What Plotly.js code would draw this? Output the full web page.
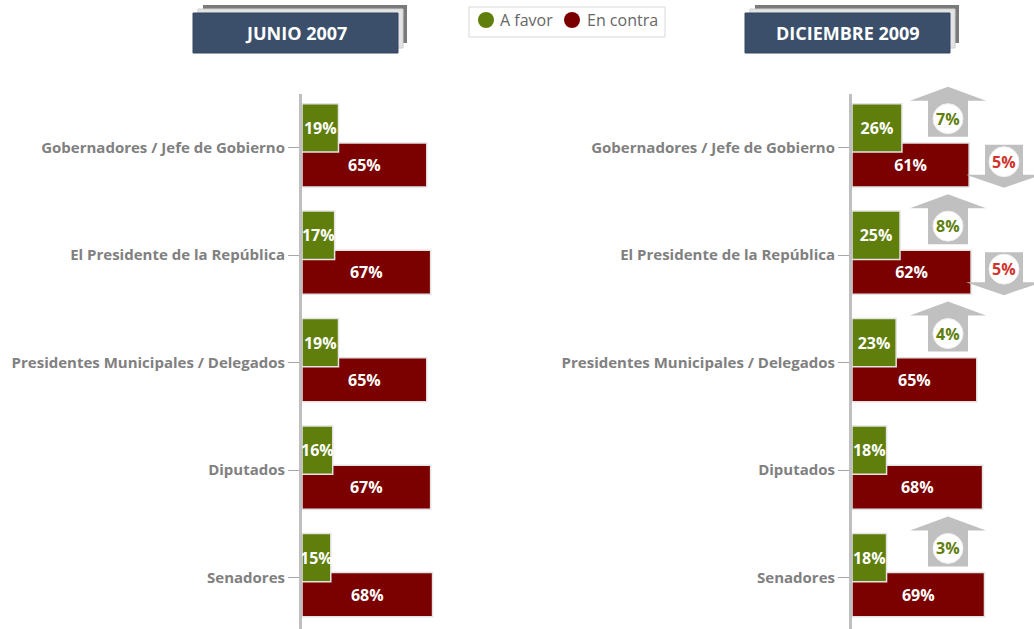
<!DOCTYPE html>
<html>
<head>
<meta charset="utf-8">
<script src="https://cdn.plot.ly/plotly-3.0.1.min.js"></script>
<style>html,body{margin:0;padding:0;background:#fff;}#chart{width:1034px;height:629px;}</style>
</head>
<body>
<div id="chart"></div>
<script>
const categories = ['Gobernadores / Jefe de Gobierno', 'El Presidente de la República', 'Presidentes Municipales / Delegados', 'Diputados', 'Senadores'];
const favor2007 = [19, 17, 19, 16, 15];
const contra2007 = [65, 67, 65, 67, 68];
const favor2009 = [26, 25, 23, 18, 18];
const contra2009 = [61, 62, 65, 68, 69];
const favorChange = [7, 8, 4, null, 3];
const contraChange = [5, 5, null, null, null];
const panelTitles = ['JUNIO 2007', 'DICIEMBRE 2009'];
const seriesNames = ['A favor', 'En contra'];

const GREEN = '#5f7e0c', RED = '#7b0000', GRAYTXT = '#808080';
const FONT = 'Open Sans, sans-serif';
const W = 1034, H = 629, MT = 94, MB = 0;
const plotH = H - MT - MB;
const yRange = [4.48, -0.5];
const unit = plotH / (yRange[0] - yRange[1]);
const px = x => x / W;
const py = y => (H - MB - y) / plotH;
const tickY = i => MT + (i - yRange[1]) * unit;

function barTrace(vals, color, xa, ya, offset, width) {
  return {
    type: 'bar', orientation: 'h', y: categories, x: vals, xaxis: xa, yaxis: ya,
    offset: offset, width: width, showlegend: false, hoverinfo: 'skip',
    marker: {color: color, line: {color: '#e3e3e3', width: 1.5}},
    text: vals.map(v => v + '%'), textposition: 'inside', insidetextanchor: 'middle',
    textangle: 0, constraintext: 'none', cliponaxis: false,
    textfont: {family: FONT, size: 16, color: '#ffffff', weight: 'bold'}
  };
}

const data = [
  barTrace(contra2007, RED, 'x', 'y', -0.045, 0.41),
  barTrace(favor2007, GREEN, 'x', 'y', -0.41, 0.45),
  barTrace(contra2009, RED, 'x2', 'y2', -0.045, 0.41),
  barTrace(favor2009, GREEN, 'x2', 'y2', -0.41, 0.45)
];

const yaxisBase = {
  type: 'category', categoryorder: 'array', categoryarray: categories, range: yRange,
  showline: true, linecolor: '#bfbfbf', linewidth: 3, showgrid: false, zeroline: false,
  ticks: 'outside', ticklen: 11, tickcolor: '#a6a6a6', tickwidth: 1,
  tickfont: {family: FONT, size: 15, color: GRAYTXT, weight: 'bold'}, fixedrange: true
};
const xaxisBase = {range: [0, 75], visible: false, fixedrange: true};

const shapes = [];
const annotations = [];

// Panel title boxes
[193, 745].forEach((x0, k) => {
  shapes.push({type: 'rect', xref: 'paper', yref: 'paper', x0: px(x0 + 10), x1: px(x0 + 214), y0: py(5), y1: py(43), fillcolor: '#7a7a7a', line: {width: 0}, layer: 'above'});
  shapes.push({type: 'rect', xref: 'paper', yref: 'paper', x0: px(x0 + 5), x1: px(x0 + 210), y0: py(9), y1: py(48), fillcolor: '#e4e4e4', line: {color: '#cfcfcf', width: 1}, layer: 'above'});
  shapes.push({type: 'rect', xref: 'paper', yref: 'paper', x0: px(x0), x1: px(x0 + 205), y0: py(13), y1: py(53), fillcolor: '#3b4f6a', line: {color: '#34465e', width: 1}, layer: 'above'});
  annotations.push({xref: 'paper', yref: 'paper', x: px(x0 + 102.5), y: py(33), text: panelTitles[k], showarrow: false, xanchor: 'center', yanchor: 'middle', font: {family: FONT, size: 18, color: '#ffffff', weight: 'bold'}});
});

// Legend box (drawn to match the original's compact layout)
shapes.push({type: 'rect', xref: 'paper', yref: 'paper', x0: px(469), x1: px(665), y0: py(7), y1: py(37), fillcolor: '#ffffff', line: {color: '#d9d9d9', width: 1}, layer: 'above'});
[[486, GREEN, 500], [572, RED, 587]].forEach((d, k) => {
  shapes.push({type: 'circle', xref: 'paper', yref: 'paper', x0: px(d[0] - 8), x1: px(d[0] + 8), y0: py(12), y1: py(28), fillcolor: d[1], line: {width: 0}, layer: 'above'});
  annotations.push({xref: 'paper', yref: 'paper', x: px(d[2] - 2), y: py(20), text: seriesNames[k], showarrow: false, xanchor: 'left', yanchor: 'middle', font: {family: FONT, size: 16, color: '#666666'}});
});

// Change arrows (right panel)
function pathStr(pts) { return 'M' + pts.map(p => px(p[0]) + ',' + py(p[1])).join('L') + 'Z'; }
categories.forEach((c, i) => {
  const t = tickY(i);
  if (favorChange[i] != null) {
    const cx = 948;
    shapes.push({type: 'path', xref: 'paper', yref: 'paper', fillcolor: '#c0c0c0', line: {width: 0}, layer: 'above',
      path: pathStr([[cx, t - 61], [cx + 38, t - 47], [cx + 20, t - 47], [cx + 20, t - 11], [cx - 20, t - 11], [cx - 20, t - 47], [cx - 38, t - 47]])});
    shapes.push({type: 'circle', xref: 'paper', yref: 'paper', x0: px(cx - 15), x1: px(cx + 15), y0: py(t - 44), y1: py(t - 14), fillcolor: '#ffffff', line: {color: '#f0f0f0', width: 1}, layer: 'above'});
    annotations.push({xref: 'paper', yref: 'paper', x: px(cx), y: py(t - 29), text: favorChange[i] + '%', showarrow: false, xanchor: 'center', yanchor: 'middle', font: {family: FONT, size: 16, color: '#5f7e0c', weight: 'bold'}});
  }
  if (contraChange[i] != null) {
    const cx = 1004;
    shapes.push({type: 'path', xref: 'paper', yref: 'paper', fillcolor: '#c0c0c0', line: {width: 0}, layer: 'above',
      path: pathStr([[cx - 19, t - 3], [cx + 19, t - 3], [cx + 19, t + 27], [cx + 38, t + 27], [cx, t + 40], [cx - 38, t + 27], [cx - 19, t + 27]])});
    shapes.push({type: 'circle', xref: 'paper', yref: 'paper', x0: px(cx - 15), x1: px(cx + 15), y0: py(t - 1), y1: py(t + 29), fillcolor: '#ffffff', line: {color: '#f0f0f0', width: 1}, layer: 'above'});
    annotations.push({xref: 'paper', yref: 'paper', x: px(cx), y: py(t + 14), text: contraChange[i] + '%', showarrow: false, xanchor: 'center', yanchor: 'middle', font: {family: FONT, size: 16, color: '#d0342c', weight: 'bold'}});
  }
});

const layout = {
  width: W, height: H,
  margin: {l: 0, r: 0, t: MT, b: MB, pad: 0},
  paper_bgcolor: '#ffffff', plot_bgcolor: 'rgba(0,0,0,0)',
  barmode: 'overlay', bargap: 0,
  showlegend: false,
  xaxis: Object.assign({}, xaxisBase, {domain: [px(302), px(446)], anchor: 'y'}),
  yaxis: Object.assign({}, yaxisBase, {anchor: 'x', domain: [0, 1]}),
  xaxis2: Object.assign({}, xaxisBase, {domain: [px(852), px(996)], anchor: 'y2'}),
  yaxis2: Object.assign({}, yaxisBase, {anchor: 'x2', domain: [0, 1]}),
  shapes: shapes, annotations: annotations
};

Plotly.newPlot('chart', data, layout, {displayModeBar: false, staticPlot: true});
</script>
</body>
</html>
